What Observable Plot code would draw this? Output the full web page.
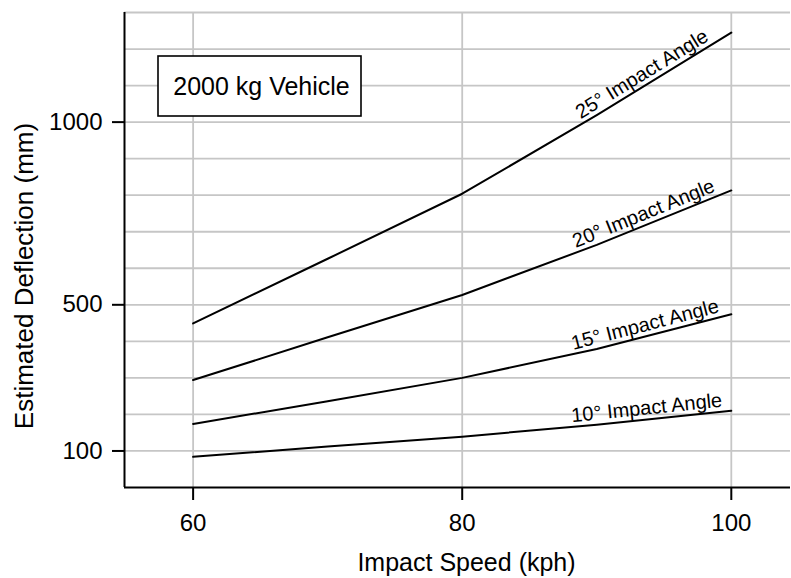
<!DOCTYPE html>
<html>
<head>
<meta charset="utf-8">
<script src="https://cdn.jsdelivr.net/npm/d3@7"></script>
<script src="https://cdn.jsdelivr.net/npm/@observablehq/plot@0.6"></script>
<style>
  html, body { margin: 0; padding: 0; background: #fff; }
  #chart { width: 791px; height: 578px; }
</style>
</head>
<body>
<div id="chart"></div>
<script>
// ---- data ----
const speeds = [60, 70, 80, 90, 100];               // Impact speed (kph)
const angle10 = [84, 112, 139, 172, 210];            // deflection (mm)
const angle15 = [174, 236, 300, 379, 474];
const angle20 = [294, 411, 527, 664, 813];
const angle25 = [449, 626, 804, 1019, 1245];
const seriesNames = ["10° Impact Angle", "15° Impact Angle", "20° Impact Angle", "25° Impact Angle"];
const seriesValues = [angle10, angle15, angle20, angle25];
const xTicks = [60, 80, 100];
const yTicks = [100, 500, 1000];
const yGridTicks = [100, 200, 300, 400, 500, 600, 700, 800, 900, 1000, 1100, 1200, 1300];
const xLabel = "Impact Speed (kph)";
const yLabel = "Estimated Deflection (mm)";
const boxLabel = "2000 kg Vehicle";

// ---- layout ----
const W = 791, H = 578;
const mL = 124, mR = 1, mT = 12, mB = 91;
const xDomain = [54.9, 104.4];
const yDomain = [0, 1300];
const font = "'Liberation Sans', Arial, Helvetica, sans-serif";
const gridColor = "#c6c6c6";

const rows = [];
seriesNames.forEach((name, i) => {
  speeds.forEach((s, j) => rows.push({series: name, speed: s, deflection: seriesValues[i][j]}));
});

// label placement along the last segment of each curve
const kx = (W - mL - mR) / (xDomain[1] - xDomain[0]);
const ky = (H - mT - mB) / (yDomain[1] - yDomain[0]);
const labelSpeed = 93.8;
const labelMarks = seriesNames.map((name, i) => {
  const v = seriesValues[i];
  const n = speeds.length;
  const s0 = speeds[n - 2], s1 = speeds[n - 1];
  const v0 = v[n - 2], v1 = v[n - 1];
  const t = (labelSpeed - s0) / (s1 - s0);
  const yv = v0 + t * (v1 - v0);
  const r = -Math.atan2((v1 - v0) * ky, (s1 - s0) * kx) * 180 / Math.PI;
  const d = 5;
  const rad = r * Math.PI / 180;
  return Plot.text([{x: labelSpeed, y: yv, label: name}], {
    x: "x", y: "y", text: "label",
    rotate: r, dx: d * Math.sin(rad), dy: -d * Math.cos(rad),
    lineAnchor: "bottom", textAnchor: "middle",
    fontSize: 20, fill: "black"
  });
});

const boxMark = (index, scales, values, dimensions) => {
  const g = d3.create("svg:g");
  const bx = dimensions.marginLeft + 34, by = dimensions.marginTop + 44, bw = 203, bh = 60;
  g.append("rect")
    .attr("x", bx).attr("y", by).attr("width", bw).attr("height", bh)
    .attr("fill", "white").attr("stroke", "black").attr("stroke-width", 1.6);
  g.append("text")
    .attr("x", bx + bw / 2 + 2).attr("y", by + bh / 2)
    .attr("dy", "0.35em")
    .attr("text-anchor", "middle")
    .attr("font-size", 25)
    .attr("fill", "black")
    .text(boxLabel);
  return g.node();
};

const chart = Plot.plot({
  width: W,
  height: H,
  marginLeft: mL,
  marginRight: mR,
  marginTop: mT,
  marginBottom: mB,
  style: {fontFamily: font, fontSize: "24px", color: "black", background: "white"},
  x: {domain: xDomain},
  y: {domain: yDomain},
  marks: [
    Plot.gridY(yGridTicks, {stroke: gridColor, strokeOpacity: 1, strokeWidth: 1.8}),
    Plot.gridX(xTicks, {stroke: gridColor, strokeOpacity: 1, strokeWidth: 1.8}),
    Plot.axisY({ticks: yTicks, tickSize: 12, tickPadding: 10, tickFormat: d => String(d),
                fontSize: 24, strokeWidth: 2, label: null}),
    Plot.axisX({ticks: xTicks, tickSize: 13, tickPadding: 13, tickFormat: d => String(d),
                fontSize: 24, strokeWidth: 2, label: null}),
    Plot.ruleX([xDomain[0]], {stroke: "black", strokeWidth: 2}),
    Plot.ruleY([yDomain[0]], {stroke: "black", strokeWidth: 2}),
    Plot.line(rows, {x: "speed", y: "deflection", z: "series", stroke: "black", strokeWidth: 2}),
    ...labelMarks,
    Plot.text([xLabel], {text: d => d, frameAnchor: "bottom", lineAnchor: "top", textAnchor: "middle",
                         dy: 66, dx: 9, fontSize: 25, fill: "black"}),
    Plot.text([yLabel], {text: d => d, frameAnchor: "left", rotate: -90, lineAnchor: "bottom",
                         textAnchor: "middle", dx: -92, dy: 26, fontSize: 26, fill: "black"}),
    boxMark
  ]
});

document.getElementById("chart").appendChild(chart);
</script>
</body>
</html>
